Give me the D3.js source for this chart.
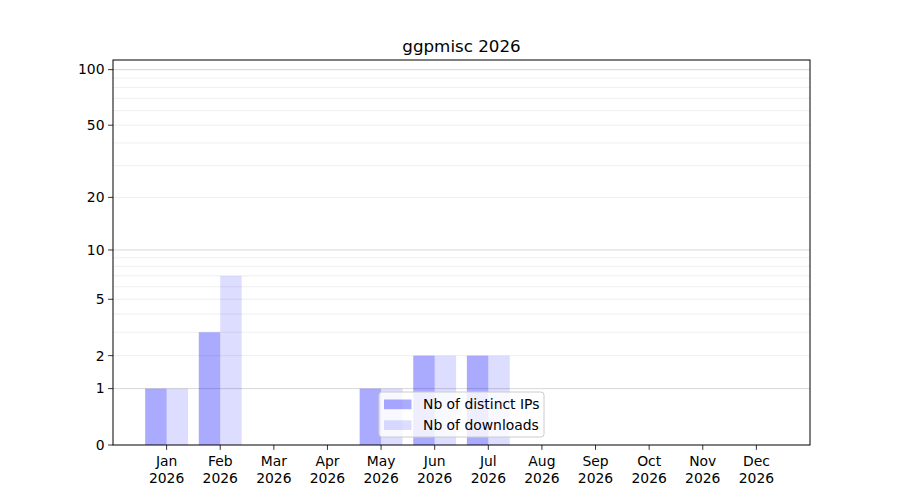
<!DOCTYPE html>
<html><head><meta charset="utf-8">
<script src="https://cdn.jsdelivr.net/npm/d3@7"></script>
<style>body{margin:0;background:#fff;} svg{display:block;font-family:"DejaVu Sans",sans-serif;}</style>
</head><body>
<svg id="c" width="900" height="500"></svg>
<script>
const months = ["Jan","Feb","Mar","Apr","May","Jun","Jul","Aug","Sep","Oct","Nov","Dec"];
const year = "2026";
const distinctIPs = [1,3,0,0,1,2,2,0,0,0,0,0];
const downloads   = [1,7,0,0,1,2,2,0,0,0,0,0];
const seriesNames = ["Nb of distinct IPs","Nb of downloads"];
const yTicks = [0,1,2,5,10,20,50,100];
const yMajorGrid = [1,10,100];
const yMinorGrid = [2,3,4,5,6,7,8,9,20,30,40,50,60,70,80,90];
const title = "ggpmisc 2026";

const svg = d3.select("#c");
const L=113,R=810,T=60,B=445;
const tf = v => Math.log10(1+v);
const yLin = d3.scaleLinear().domain([0, tf(112.7)]).range([B,T]);
const y = v => yLin(tf(v));
const x = d3.scaleLinear().domain([-1,12]).range([L,R]);
const bw = 0.4;

// grid
svg.append("g").selectAll("line").data(yMinorGrid).join("line")
  .attr("x1",L).attr("x2",R).attr("y1",d=>y(d)).attr("y2",d=>y(d))
  .attr("stroke","#ebebeb").attr("stroke-width",0.8);
svg.append("g").selectAll("line").data(yMajorGrid).join("line")
  .attr("x1",L).attr("x2",R).attr("y1",d=>y(d)).attr("y2",d=>y(d))
  .attr("stroke","#cccccc").attr("stroke-width",0.8);

// bars
const g = svg.append("g");
g.selectAll("rect.a").data(distinctIPs).join("rect").attr("class","a")
  .attr("x",(d,i)=>x(i-bw)).attr("width",(d,i)=>x(i)-x(i-bw))
  .attr("y",d=>y(d)).attr("height",d=>y(0)-y(d))
  .attr("fill","blue").attr("fill-opacity",1/3);
g.selectAll("rect.b").data(downloads).join("rect").attr("class","b")
  .attr("x",(d,i)=>x(i)).attr("width",(d,i)=>x(i+bw)-x(i))
  .attr("y",d=>y(d)).attr("height",d=>y(0)-y(d))
  .attr("fill","blue").attr("fill-opacity",0.135);

// axes frame
svg.append("rect").attr("x",L).attr("y",T).attr("width",R-L).attr("height",B-T)
  .attr("fill","none").attr("stroke","#000").attr("stroke-width",1);

// y ticks
const yt = svg.append("g").selectAll("g").data(yTicks).join("g");
yt.append("line").attr("x1",L-4.9).attr("x2",L).attr("y1",d=>y(d)).attr("y2",d=>y(d)).attr("stroke","#000").attr("stroke-width",0.8);
yt.append("text").attr("x",L-8.5).attr("y",d=>y(d)).attr("dy","0.35em")
  .attr("text-anchor","end").attr("font-size","13.9px").attr("fill","#000").text(d=>d);

// x ticks
const xt = svg.append("g").selectAll("g").data(months).join("g");
xt.append("line").attr("x1",(d,i)=>x(i)).attr("x2",(d,i)=>x(i)).attr("y1",B).attr("y2",B+4.9).attr("stroke","#000").attr("stroke-width",0.8);
xt.append("text").attr("x",(d,i)=>x(i)).attr("y",466).attr("text-anchor","middle").attr("font-size","13.9px").text(d=>d);
xt.append("text").attr("x",(d,i)=>x(i)).attr("y",482.5).attr("text-anchor","middle").attr("font-size","13.9px").text(year);

// title
svg.append("text").attr("x",(L+R)/2).attr("y",52).attr("text-anchor","middle").attr("font-size","16.7px").text(title);

// legend
const lg = svg.append("g");
lg.append("rect").attr("x",379).attr("y",392).attr("width",165).attr("height",45).attr("rx",3)
  .attr("fill","#fff").attr("fill-opacity",0.8).attr("stroke","#cccccc").attr("stroke-width",1);
const op=[1/3,0.135];
seriesNames.forEach((n,i)=>{
  lg.append("rect").attr("x",384).attr("y",399.5+i*20.8).attr("width",27.5).attr("height",9.7)
    .attr("fill","blue").attr("fill-opacity",op[i]);
  lg.append("text").attr("x",423).attr("y",409+i*20.8).attr("font-size","13.9px").text(n);
});
</script>
</body></html>
